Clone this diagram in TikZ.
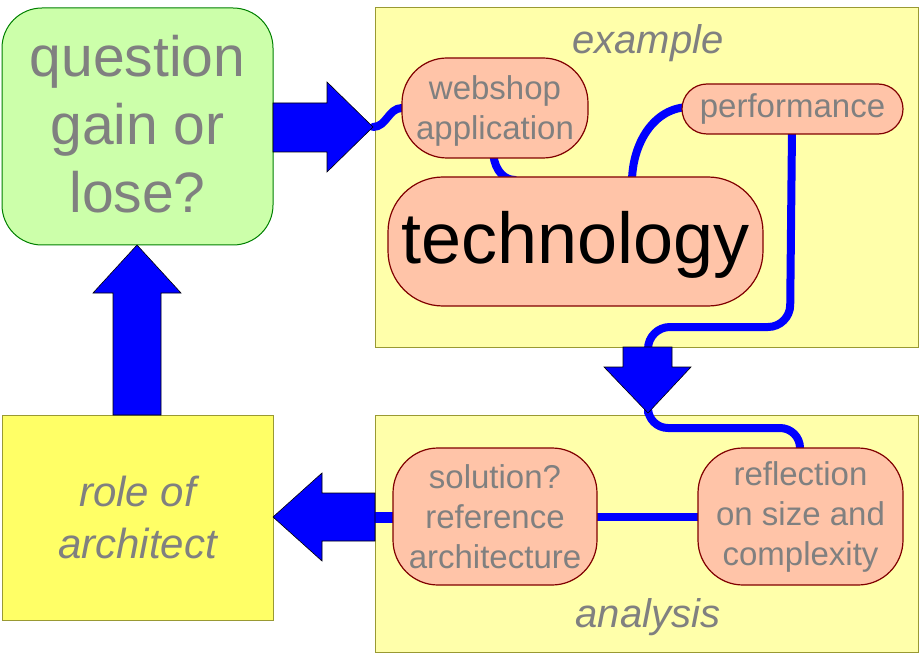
\documentclass[tikz,border=0pt]{standalone}
\usepackage{fontspec}
\setmainfont{Liberation Sans}
\definecolor{greenfill}{HTML}{CCFFAA}
\definecolor{greenline}{HTML}{008000}
\definecolor{yellowfill}{HTML}{FFFFAA}
\definecolor{rolefill}{HTML}{FFFF66}
\definecolor{oliveline}{HTML}{999933}
\definecolor{salmon}{HTML}{FFC4A8}
\definecolor{darkred}{HTML}{800000}
\definecolor{txtgray}{HTML}{808080}
\definecolor{pureblue}{HTML}{0000FF}
\begin{document}
\begin{tikzpicture}[x=1pt,y=-1pt,
  bigbox/.style={draw, rectangle, line width=1pt, inner sep=0pt, align=center, text=txtgray},
  pill/.style={draw=darkred, fill=salmon, line width=1.2pt, align=center, inner sep=0pt,
    text=txtgray, font=\fontsize{33}{40}\selectfont},
  conn/.style={draw=pureblue, line width=8pt, line cap=round, line join=round},
  fatarrow/.style={fill=pureblue, draw=black, line width=0.6pt, line join=miter}]
\useasboundingbox (0,0) rectangle (920,660);

% boxes
\node[bigbox, draw=greenline, fill=greenfill, rounded corners=40pt,
  minimum width=271pt, minimum height=237pt,
  font=\fontsize{57}{68}\selectfont] (question) at (137.5,126.5) {question\\gain or\\lose?\rule[-6pt]{0pt}{6pt}};
\node[bigbox, draw=oliveline, fill=yellowfill, minimum width=543pt, minimum height=339pt] (example) at (646.5,177.5) {};
\node[bigbox, draw=oliveline, fill=yellowfill, minimum width=543pt, minimum height=237pt] (analysis) at (646.5,533.5) {};
\node[bigbox, draw=oliveline, fill=rolefill, minimum width=271pt, minimum height=205pt,
  font=\fontsize{42}{52}\selectfont\itshape] (role) at (137.5,517.5) {role of\\architect};

\node[text=txtgray, font=\fontsize{40}{48}\selectfont\itshape] (extitle) at (648,43) {example};
\node[text=txtgray, font=\fontsize{40}{48}\selectfont\itshape] (antitle) at (648,617) {analysis};

% coordinates for arrow tips and bases
\coordinate (rtip) at (373,127);
\coordinate (dtip) at (648,413);
\coordinate (lbase) at (375,517);

% connectors (behind the pills)
\draw[conn] (rtip) to[out=0,in=180] (402,108);
\draw[conn] (493,150) to[out=-90,in=180] (515,180);
\draw[conn] (632,182) to[out=90,in=180] (690,107);
\draw[conn, rounded corners=22pt] (792,130) -- (790,327) -- (648,327) -- (648,352);
\draw[conn, rounded corners=20pt] (dtip) -- (648,428) -- (800,428) -- (800,455);
\draw[conn, line cap=butt, line width=11pt] (lbase) -- (400,517);
\draw[conn, line cap=butt] (590,517) -- (705,517);

% pills
\node[pill, rounded corners=45pt, minimum width=186pt, minimum height=100pt] (webshop) at (495,108) {\rule{0pt}{30pt}webshop\\application};
\node[pill, rounded corners=25pt, minimum width=221pt, minimum height=50pt] (perf) at (792.5,109) {performance};
\node[pill, rounded corners=55pt, minimum width=375pt, minimum height=129pt, text=black,
  font=\fontsize{72}{80}\selectfont] (tech) at (575.5,241.5) {\rule{0pt}{58pt}technology};
\node[pill, rounded corners=45pt, minimum width=204pt, minimum height=137pt] (solution) at (495,516.5) {solution?\\reference\\architecture};
\node[pill, rounded corners=45pt, minimum width=205pt, minimum height=137pt] (reflection) at (800.5,516.5) {reflection\\on size and\\complexity};

% fat arrows
\filldraw[fatarrow] (273,103) -- (327,103) -- (327,82) -- (rtip) -- (327,172) -- (327,152) -- (273,152) -- cycle;
\filldraw[fatarrow] (113,415) -- (113,293) -- (93,293) -- (137,245) -- (181,293) -- (161,293) -- (161,415) -- cycle;
\filldraw[fatarrow] (lbase) ++(0,-24) -- (322,493) -- (322,473) -- (273,517) -- (322,561) -- (322,541) -- (375,541) -- cycle;
\filldraw[fatarrow] (623,347) -- (672,347) -- (672,367) -- (691,367) -- (dtip) -- (604,367) -- (623,367) -- cycle;
\end{tikzpicture}
\end{document}
